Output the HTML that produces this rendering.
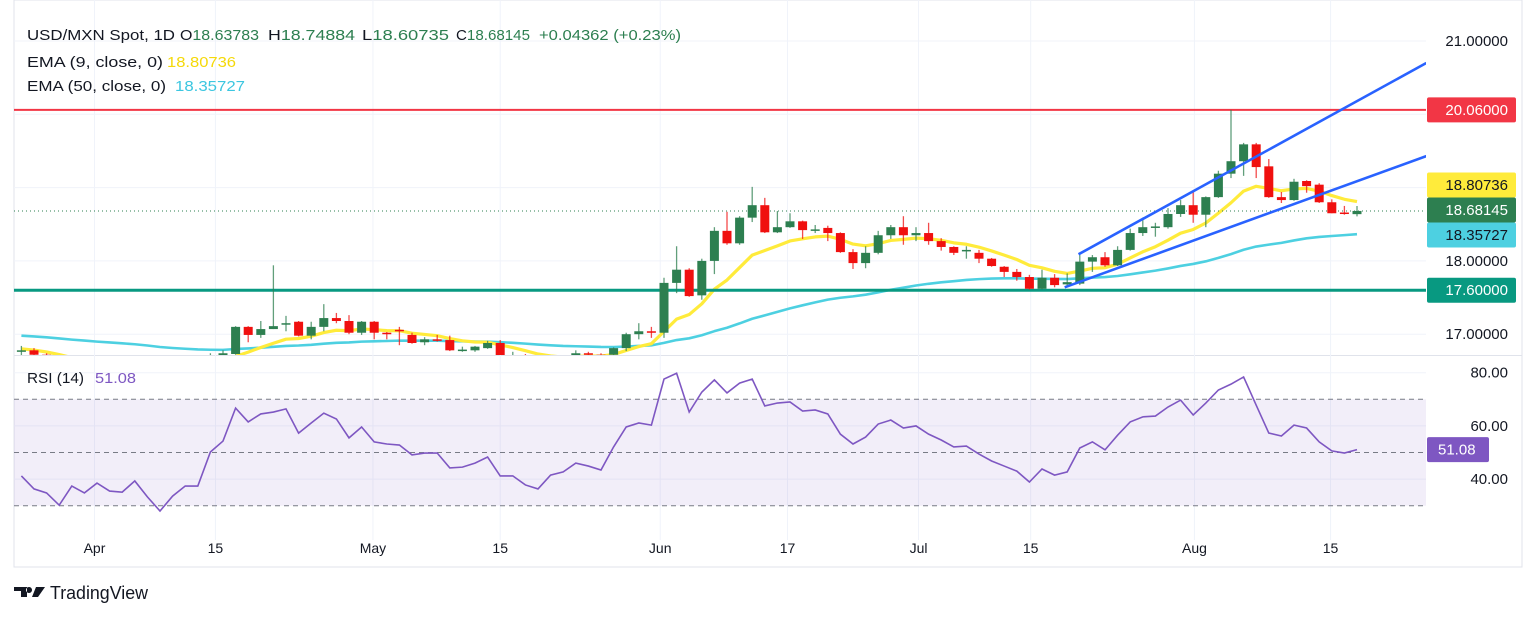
<!DOCTYPE html>
<html><head><meta charset="utf-8">
<style>
html,body{margin:0;padding:0;background:#fff;}
body{width:1536px;height:618px;overflow:hidden;font-family:"Liberation Sans",sans-serif;}
svg{display:block;}
text{font-family:"Liberation Sans",sans-serif;}
</style></head>
<body>
<svg id="chart" width="1536" height="618" xmlns="http://www.w3.org/2000/svg">
  <defs>
    <clipPath id="mainClip"><rect x="14" y="0" width="1412" height="355"/></clipPath>
    <clipPath id="rsiClip"><rect x="14" y="356" width="1412" height="184"/></clipPath>
  </defs>
  <rect x="14" y="0" width="1508" height="567" fill="none" stroke="#e0e3eb"/>
  <line x1="14" y1="355.5" x2="1522" y2="355.5" stroke="#e0e3eb" stroke-width="1"/>
  <g id="grid"></g>
  <g id="rsiPane" clip-path="url(#rsiClip)"></g>
  <g id="mainPane" clip-path="url(#mainClip)"></g>
  <g id="axes"></g>

  <g font-size="14.5" fill="#131722">
    <text x="27" y="40" textLength="148" lengthAdjust="spacingAndGlyphs">USD/MXN Spot, 1D</text>
    <text x="180" y="40" textLength="79" lengthAdjust="spacingAndGlyphs"><tspan fill="#131722">O</tspan><tspan fill="#2d7f50">18.63783</tspan></text>
    <text x="268" y="40" textLength="87" lengthAdjust="spacingAndGlyphs"><tspan fill="#131722">H</tspan><tspan fill="#2d7f50">18.74884</tspan></text>
    <text x="362" y="40" textLength="87" lengthAdjust="spacingAndGlyphs"><tspan fill="#131722">L</tspan><tspan fill="#2d7f50">18.60735</tspan></text>
    <text x="456" y="40" textLength="74" lengthAdjust="spacingAndGlyphs"><tspan fill="#131722">C</tspan><tspan fill="#2d7f50">18.68145</tspan></text>
    <text x="539" y="40" textLength="142" lengthAdjust="spacingAndGlyphs" fill="#2d7f50">+0.04362 (+0.23%)</text>
    <text x="27" y="67" textLength="136" lengthAdjust="spacingAndGlyphs">EMA (9, close, 0)</text>
    <text x="167" y="67" textLength="69" lengthAdjust="spacingAndGlyphs" fill="#f5d90a">18.80736</text>
    <text x="27" y="91" textLength="139" lengthAdjust="spacingAndGlyphs">EMA (50, close, 0)</text>
    <text x="175" y="91" textLength="70" lengthAdjust="spacingAndGlyphs" fill="#3cc6e0">18.35727</text>
    <text x="27" y="383" textLength="57" lengthAdjust="spacingAndGlyphs">RSI (14)</text>
    <text x="95" y="383" textLength="41" lengthAdjust="spacingAndGlyphs" fill="#7e57c2">51.08</text>
  </g>

  <g>
    <path d="M14 587 h13 v10 h-6 v-6 h-7 z M29 587 a3 3 0 1 0 0.01 0 z" fill="#131722"/>
    <path d="M36 587 h9 l-7 10 h-6 z" fill="#131722"/>
    <text x="50" y="599" font-size="18" textLength="98" lengthAdjust="spacingAndGlyphs" fill="#131722">TradingView</text>
  </g>
</svg>
<script>
const opens=[16.76,16.78,16.72,16.65,16.58,16.52,16.60,16.55,16.62,16.57,16.55,16.43,16.33,16.47,16.55,16.56,16.70,16.73,17.10,16.99,17.07,17.13,17.17,16.98,17.10,17.22,17.18,17.02,17.17,17.02,17.06,16.99,16.89,16.93,16.92,16.78,16.78,16.81,16.88,16.62,16.68,16.60,16.55,16.60,16.70,16.74,16.72,16.72,16.81,17.00,17.04,17.02,17.70,17.88,17.53,18.00,18.41,18.24,18.59,18.76,18.39,18.46,18.54,18.42,18.45,18.38,18.12,17.97,18.11,18.35,18.46,18.35,18.38,18.27,18.19,18.14,18.11,18.03,17.92,17.85,17.78,17.62,17.77,17.68,17.69,17.99,18.05,17.94,18.15,18.38,18.46,18.46,18.64,18.76,18.63,18.87,19.19,19.36,19.59,19.29,18.87,18.83,19.09,19.04,18.80,18.66,18.63783];
const highs=[16.84,16.81,16.74,16.68,16.62,16.62,16.63,16.64,16.64,16.60,16.57,16.46,16.50,16.58,16.60,16.74,16.78,17.11,17.11,17.18,17.94,17.25,17.18,17.17,17.41,17.29,17.26,17.18,17.18,17.03,17.10,17.02,16.96,16.99,16.98,16.83,16.84,16.91,16.92,16.76,16.73,16.64,16.66,16.68,16.78,16.76,16.74,16.82,17.02,17.15,17.10,17.77,18.20,17.90,18.03,18.46,18.67,18.61,19.01,18.86,18.68,18.65,18.55,18.49,18.48,18.39,18.16,18.20,18.41,18.49,18.61,18.46,18.52,18.31,18.20,18.20,18.15,18.04,17.93,17.89,17.81,17.88,17.82,17.83,18.08,18.08,18.12,18.20,18.44,18.59,18.52,18.72,18.83,18.94,18.88,19.23,20.06,19.61,19.61,19.39,18.94,19.12,19.10,19.06,18.84,18.75,18.74884];
const lows=[16.70,16.69,16.60,16.55,16.50,16.50,16.52,16.53,16.54,16.50,16.40,16.30,16.32,16.45,16.50,16.54,16.66,16.72,16.89,16.95,17.07,17.04,16.97,16.93,17.04,17.15,17.00,16.99,16.93,16.93,16.85,16.87,16.85,16.90,16.77,16.76,16.76,16.80,16.66,16.58,16.56,16.50,16.50,16.56,16.68,16.68,16.66,16.70,16.77,16.93,16.95,16.95,17.56,17.51,17.47,17.82,18.22,18.22,18.53,18.38,18.38,18.45,18.30,18.38,18.27,18.11,17.89,17.90,18.09,18.30,18.22,18.27,18.22,18.14,18.08,18.03,17.97,17.92,17.78,17.73,17.61,17.61,17.64,17.64,17.67,17.85,17.92,17.93,18.14,18.34,18.33,18.44,18.60,18.52,18.46,18.86,19.13,19.16,19.13,18.86,18.79,18.82,18.93,18.79,18.65,18.63,18.60735];
const closes=[16.78,16.72,16.65,16.58,16.52,16.60,16.55,16.62,16.57,16.55,16.43,16.33,16.47,16.55,16.56,16.69,16.74,17.10,16.99,17.07,17.11,17.15,16.98,17.10,17.22,17.18,17.02,17.17,17.02,17.00,17.04,16.88,16.93,16.91,16.78,16.79,16.83,16.88,16.70,16.68,16.60,16.55,16.60,16.62,16.74,16.72,16.70,16.81,17.00,17.04,17.03,17.70,17.88,17.52,18.00,18.41,18.24,18.59,18.76,18.39,18.46,18.54,18.42,18.43,18.38,18.12,17.97,18.11,18.35,18.46,18.35,18.38,18.27,18.19,18.11,18.15,18.03,17.93,17.85,17.78,17.62,17.77,17.67,17.71,17.99,18.05,17.94,18.15,18.38,18.46,18.47,18.64,18.76,18.63,18.87,19.19,19.36,19.59,19.28,18.87,18.83,19.08,19.02,18.80,18.65,18.64,18.68145];
const rsiValues=[41.2,36.3,34.8,30.2,37.4,34.8,38.5,35.5,35.1,39.3,33.3,28.0,33.6,37.4,37.4,50.2,54.3,66.7,61.5,64.5,65.2,66.4,57.3,61.1,64.8,62.6,55.5,59.6,54.0,53.2,52.8,49.1,49.8,49.8,44.2,44.5,46.0,48.3,41.2,41.2,37.8,36.3,41.5,42.7,46.0,44.9,43.4,52.1,59.6,61.1,60.3,77.6,79.8,65.2,72.7,77.3,72.4,76.1,77.6,67.5,68.6,69.0,65.6,66.0,64.5,56.9,53.2,55.8,60.7,62.2,59.2,60.0,56.9,54.7,52.1,52.4,49.4,46.8,44.9,43.0,38.9,43.8,41.5,42.7,51.7,54.0,51.0,56.5,61.5,63.4,63.7,67.1,69.7,64.1,68.6,73.5,75.7,78.4,67.8,57.3,56.2,60.3,59.2,54.0,50.6,49.8,51.08];
const ema9Seed=16.80;
const ema50Seed=16.98;
const ema9Last=18.80736;
const ema50Last=18.35727;
const priceTicks=[21,18,17];
const rsiTicks=[80,60,40];
const timeTickIdx=[5.8,15.4,27.9,38,50.7,60.8,71.2,80.1,93.1,103.9];
const timeTickLabels=["Apr","15","May","15","Jun","17","Jul","15","Aug","15"];
const upperTrend=[[83.9,18.09],[111.5,20.70]];
const lowerTrend=[[82.8,17.64],[111.5,19.43]];
const resistanceLevel=20.06;
const supportLevel=17.60;
const lastPrice=18.68145;

const NS="http://www.w3.org/2000/svg";
const X0=21.4, DX=12.6;
function xs(i){return X0+DX*i;}
function ys(p){return 41+(21-p)*73.3;}
function yr(v){return 505.7-(v-30)*2.66;}
function mk(tag,attrs,parent){const e=document.createElementNS(NS,tag);for(const k in attrs)e.setAttribute(k,attrs[k]);parent.appendChild(e);return e;}

const grid=document.getElementById('grid');
const main=document.getElementById('mainPane');
const rsiG=document.getElementById('rsiPane');
const axes=document.getElementById('axes');

[21,20,19,18,17].forEach(p=>{const l=mk('line',{x1:14,x2:1426,y1:ys(p),y2:ys(p),stroke:'#f0f3fa'},grid);

});
[80,60,40].forEach(v=>{const l=mk('line',{x1:14,x2:1426,y1:yr(v),y2:yr(v),stroke:'#f0f3fa'},grid);

});
timeTickIdx.forEach(t=>{const l=mk('line',{x1:xs(t),x2:xs(t),y1:0,y2:540,stroke:'#f0f3fa'},grid);

});

const band=mk('rect',{x:14,y:yr(70),width:1412,height:yr(30)-yr(70),fill:'rgba(126,87,194,0.1)'},rsiG);


[70,50,30].forEach(v=>{const l=mk('line',{x1:14,x2:1426,y1:yr(v),y2:yr(v),stroke:'#787b86','stroke-dasharray':'5,4','stroke-width':1},rsiG);

});
const rsiLine=mk('polyline',{points:rsiValues.map((v,i)=>xs(i)+','+yr(v)).join(' '),fill:'none',stroke:'#7e57c2','stroke-width':1.6},rsiG);



function ema(seed,n){const a=2/(n+1);let e=seed;return closes.map((c,i)=>{e=i===0?seed:e+(c-e)*a;return e;});}
const ema50=ema(ema50Seed,50), ema9=ema(ema9Seed,9);
const e50=mk('polyline',{points:ema50.map((v,i)=>xs(i)+','+ys(v)).join(' '),fill:'none',stroke:'#4dd0e1','stroke-width':2.6,'stroke-linejoin':'round'},main);


const e9=mk('polyline',{points:ema9.map((v,i)=>xs(i)+','+ys(v)).join(' '),fill:'none',stroke:'#ffeb3b','stroke-width':3.2,'stroke-linejoin':'round'},main);



const res=mk('line',{x1:14,x2:1426,y1:ys(resistanceLevel),y2:ys(resistanceLevel),stroke:'#f23645','stroke-width':2},main);


const sup=mk('line',{x1:14,x2:1426,y1:ys(supportLevel),y2:ys(supportLevel),stroke:'#089981','stroke-width':3},main);


const lp=mk('line',{x1:14,x2:1426,y1:ys(lastPrice),y2:ys(lastPrice),stroke:'#2d7f50','stroke-width':1,'stroke-dasharray':'1,3'},main);



for(let i=0;i<closes.length;i++){
  const up=closes[i]>=opens[i];
  const col=up?'#2d7f50':'#f0100f';
  const g=mk('g',{},main);
  
  
  mk('line',{x1:xs(i),x2:xs(i),y1:ys(highs[i]),y2:ys(lows[i]),stroke:col,'stroke-width':1.3,opacity:0.75},g);
  const top=ys(Math.max(opens[i],closes[i])), bot=ys(Math.min(opens[i],closes[i]));
  mk('rect',{x:xs(i)-4.5,y:top,width:9,height:Math.max(1.5,bot-top),fill:col},g);
}

[[upperTrend,'upper-trendline'],[lowerTrend,'lower-trendline']].forEach(([t,n])=>{
  const l=mk('line',{x1:xs(t[0][0]),y1:ys(t[0][1]),x2:xs(t[1][0]),y2:ys(t[1][1]),stroke:'#2962ff','stroke-width':2.6},main);
  
  
});

function label(txt,y,fill,parent,name){const t=mk('text',{x:1508,y:y+5,'font-size':15,'text-anchor':'end',fill:fill},parent);t.textContent=txt;

return t;}
priceTicks.forEach(p=>label(p.toFixed(5),ys(p),'#131722',axes,'price-tick'));
rsiTicks.forEach(v=>label(v.toFixed(2),yr(v),'#131722',axes,'rsi-tick'));
function box(val,y,bg,fg,name){const r=mk('rect',{x:1427,y:y-12.5,width:89,height:25,rx:2,fill:bg},axes);


label(val.toFixed(5),y,fg,axes,name);}
box(resistanceLevel,ys(resistanceLevel),'#f23645','#fff','resistance-label');
box(supportLevel,ys(supportLevel),'#089981','#fff','support-label');
box(ema9Last,185,'#ffeb3b','#131722','ema9-label');
box(lastPrice,210,'#2d7f50','#fff','last-price-label');
box(ema50Last,235,'#4dd0e1','#131722','ema50-label');
const rb=mk('rect',{x:1427,y:yr(rsiValues[rsiValues.length-1])-12.5,width:62,height:25,rx:2,fill:'#7e57c2'},axes);


const rt=mk('text',{x:1438,y:yr(rsiValues[rsiValues.length-1])+5,'font-size':15,fill:'#fff'},axes);
rt.textContent=rsiValues[rsiValues.length-1].toFixed(2);


timeTickIdx.forEach((t,k)=>{const tx=mk('text',{x:xs(t),y:553,'font-size':14,'text-anchor':'middle',fill:'#131722'},axes);
tx.textContent=timeTickLabels[k];

});
</script>
</body></html>
